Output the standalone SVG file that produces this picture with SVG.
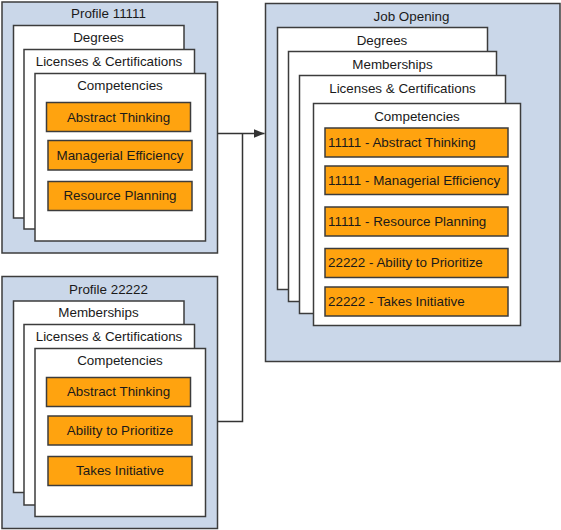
<svg xmlns="http://www.w3.org/2000/svg" width="561" height="530" viewBox="0 0 561 530">
<defs>
<style>
.grp{fill:#CAD7E9;stroke:#3C3C3C;stroke-width:1.5}
.card{fill:#FFFFFF;stroke:#3C3C3C;stroke-width:1.5}
.item{fill:#FFA30F;stroke:#3C3C3C;stroke-width:1.5}
.conn{fill:none;stroke:#333333;stroke-width:1.5}
text{font-family:"Liberation Sans",Arial,sans-serif;font-size:13.4px;fill:#1A1A1A}
.c{text-anchor:middle}
</style>
<marker id="arr" viewBox="0 0 10 8" refX="10" refY="4" markerWidth="11" markerHeight="9" orient="auto" markerUnits="userSpaceOnUse">
<path d="M0,0 L10,4 L0,8 z" fill="#333333"/>
</marker>
</defs>

<g id="profile1">
<rect class="grp" x="2" y="2" width="215.5" height="251"/>
<text class="c" x="108.5" y="18">Profile 11111</text>
<rect class="card" x="13.5" y="25.5" width="170.5" height="192.5"/>
<text class="c" x="98.5" y="42">Degrees</text>
<rect class="card" x="24" y="49.5" width="170.5" height="179.5"/>
<text class="c" x="109" y="66">Licenses &amp; Certifications</text>
<rect class="card" x="35" y="73.5" width="170.5" height="167.5"/>
<text class="c" x="120" y="90">Competencies</text>
<rect class="item" x="46.5" y="102.5" width="144" height="29"/>
<text class="c" x="118.5" y="121.5">Abstract Thinking</text>
<rect class="item" x="48" y="140.5" width="144" height="29.5"/>
<text class="c" x="120" y="159.5">Managerial Efficiency</text>
<rect class="item" x="48" y="181.5" width="144" height="29"/>
<text class="c" x="120" y="200">Resource Planning</text>
</g>

<g id="profile2">
<rect class="grp" x="2" y="276.5" width="215.5" height="252"/>
<text class="c" x="108.5" y="294">Profile 22222</text>
<rect class="card" x="13.5" y="301" width="170.5" height="191.5"/>
<text class="c" x="98.5" y="317">Memberships</text>
<rect class="card" x="24" y="324.5" width="170.5" height="180.5"/>
<text class="c" x="109" y="341">Licenses &amp; Certifications</text>
<rect class="card" x="35" y="348.5" width="170.5" height="168"/>
<text class="c" x="120" y="365">Competencies</text>
<rect class="item" x="46.5" y="377.5" width="144" height="29"/>
<text class="c" x="118.5" y="396">Abstract Thinking</text>
<rect class="item" x="48" y="416" width="144" height="29"/>
<text class="c" x="120" y="434.5">Ability to Prioritize</text>
<rect class="item" x="48" y="456.5" width="144" height="29"/>
<text class="c" x="120" y="475">Takes Initiative</text>
</g>

<g id="jobopening">
<rect class="grp" x="265.5" y="3.5" width="294.5" height="358"/>
<text class="c" x="411.5" y="21">Job Opening</text>
<rect class="card" x="277.5" y="27.5" width="210" height="262"/>
<text class="c" x="382" y="45">Degrees</text>
<rect class="card" x="288.5" y="51.5" width="208" height="250"/>
<text class="c" x="392.5" y="69">Memberships</text>
<rect class="card" x="299.5" y="75.5" width="206" height="238"/>
<text class="c" x="402.5" y="93">Licenses &amp; Certifications</text>
<rect class="card" x="313.5" y="103.5" width="207" height="222"/>
<text class="c" x="417" y="121">Competencies</text>
<rect class="item" x="325" y="128" width="183" height="29"/>
<text x="328" y="146.5">11111 - Abstract Thinking</text>
<rect class="item" x="325" y="166" width="183" height="28.5"/>
<text x="328" y="184.5">11111 - Managerial Efficiency</text>
<rect class="item" x="325" y="207" width="183" height="29"/>
<text x="328" y="225.5">11111 - Resource Planning</text>
<rect class="item" x="325" y="248.5" width="183" height="29"/>
<text x="328" y="267">22222 - Ability to Prioritize</text>
<rect class="item" x="325" y="287" width="183" height="29"/>
<text x="328" y="305.5">22222 - Takes Initiative</text>
</g>

<g id="connectors">
<path class="conn" d="M217.5,133.5 H264.5" marker-end="url(#arr)"/>
<path class="conn" d="M217.5,421.5 H242.5 V133.5"/>
</g>
</svg>
